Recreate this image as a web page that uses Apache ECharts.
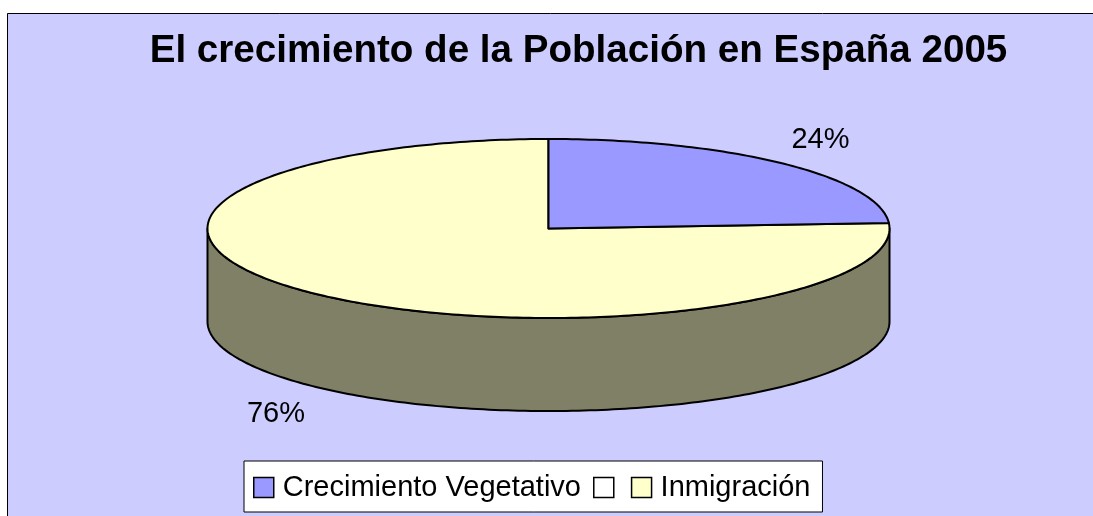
<!DOCTYPE html>
<html><head><meta charset="utf-8">
<style>html,body{margin:0;padding:0;background:#fff}#c{width:1093px;height:516px}</style>
<script src="https://cdn.jsdelivr.net/npm/echarts@6/dist/echarts.min.js"></script>
</head><body><div id="c"></div>
<script>
const titleText = 'El crecimiento de la Población en España 2005';
const categories = ['Crecimiento Vegetativo ', ' ', 'Inmigración'];
const values = [24, 0, 76];
const sliceColors = ['#9999ff', '#ffffff', '#ffffcc'];
const wallColors = ['#4d4d80', '#808080', '#808066'];
const labelPos = [[820.5, 140], null, [276, 414]];
const legendTextPadding = [[0, 0, 0, 4], [0, 0, 0, 0], [0, 0, 0, 4]];

const cx = 548.5, cy = 228.5, rx = 341, ry = 89.5, depth = 93;
const total = values.reduce((a, b) => a + b, 0);
const pt = (deg, dy) => {
  const a = deg * Math.PI / 180;
  return [cx + rx * Math.sin(a), cy + (dy || 0) - ry * Math.cos(a)];
};
const arc = (from, to, dy) => {
  const pts = [], n = Math.max(2, Math.ceil(Math.abs(to - from)));
  for (let i = 0; i <= n; i++) pts.push(pt(from + (to - from) * i / n, dy));
  return pts;
};
const stroke = { stroke: '#000', lineWidth: 2, lineJoin: 'round' };

function renderSlice(idx) {
  return function (params, api) {
    const v = api.value(0);
    if (!v) return { type: 'group', children: [] };
    let before = 0;
    for (let i = 0; i < idx; i++) before += values[i];
    const start = before / total * 360, end = (before + v) / total * 360;
    const children = [];
    const wf = Math.max(start, 90), wt = Math.min(end, 270);
    if (wt > wf) {
      children.push({
        type: 'polygon',
        shape: { points: arc(wf, wt, 0).concat(arc(wt, wf, depth)) },
        style: Object.assign({ fill: wallColors[idx] }, stroke)
      });
    }
    children.push({
      type: 'polygon',
      shape: { points: [[cx, cy]].concat(arc(start, end, 0)) },
      style: Object.assign({ fill: sliceColors[idx] }, stroke)
    });
    children.push({
      type: 'text',
      style: {
        x: labelPos[idx][0], y: labelPos[idx][1],
        text: Math.round(v / total * 100) + '%',
        fill: '#000', font: '29px "Liberation Sans"',
        align: 'center', verticalAlign: 'middle'
      }
    });
    return { type: 'group', children };
  };
}

const chart = echarts.init(document.getElementById('c'), null, { renderer: 'canvas' });
chart.setOption({
  animation: false,
  graphic: [{
    type: 'rect', z: -10, silent: true,
    shape: { x: 7.5, y: 13.5, width: 1100, height: 520 },
    style: { fill: '#ccccff', stroke: '#000', lineWidth: 1 }
  }],
  title: {
    text: titleText, left: 573.5, top: 27, textAlign: 'center',
    textStyle: { fontFamily: 'Liberation Sans', fontWeight: 'bold', fontSize: 38.6, color: '#000' }
  },
  legend: {
    left: 244, top: 461, orient: 'horizontal',
    padding: [12, 12, 10, 9], itemGap: 4, itemWidth: 20, itemHeight: 20,
    backgroundColor: '#fff', borderColor: '#000', borderWidth: 1,
    textStyle: { fontFamily: 'Liberation Sans', fontSize: 29, color: '#000' },
    data: categories.map((name, i) => ({
      name, icon: 'rect',
      textStyle: { padding: legendTextPadding[i] },
      itemStyle: { color: sliceColors[i], borderColor: '#000', borderWidth: 1.5 }
    }))
  },
  series: categories.map((name, i) => ({
    type: 'custom', name, coordinateSystem: 'none',
    renderItem: renderSlice(i), z: i === 2 ? 2 : 3,
    itemStyle: { color: sliceColors[i] },
    data: [[values[i]]]
  }))
});
</script></body></html>
